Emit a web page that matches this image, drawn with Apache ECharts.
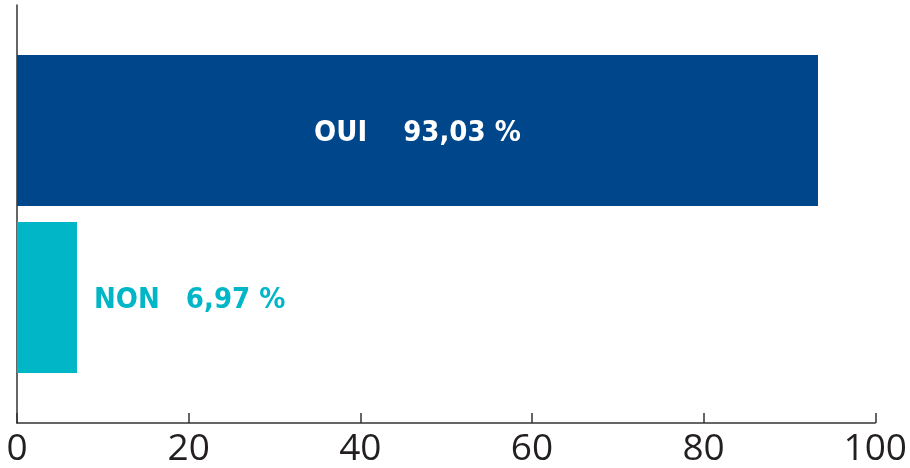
<!DOCTYPE html>
<html>
<head>
<meta charset="utf-8">
<script src="https://cdn.jsdelivr.net/npm/echarts@6/dist/echarts.min.js"></script>
<style>html,body{margin:0;padding:0;background:#fff}#c{width:910px;height:468px}</style>
</head>
<body>
<div id="c"></div>
<script>
const categories = ['OUI', 'NON'];
const values = [93.03, 6.97];
const valueLabels = ['93,03 %', '6,97 %'];
const colors = ['#00468a', '#00b6c7'];
const xTicks = [0, 20, 40, 60, 80, 100];

const chart = echarts.init(document.getElementById('c'));
const labelFont = '"DejaVu Sans Condensed", "Liberation Sans Narrow", sans-serif';
const tickFont = '"Open Sans", "Noto Sans", sans-serif';
function rich(color, gap) {
  return {
    a: { color: color, fontSize: 29, fontWeight: 'bold', fontFamily: labelFont, padding: [5, gap, 0, 0] },
    b: { color: color, fontSize: 29, fontWeight: 'bold', fontFamily: labelFont, padding: [5, 0, 0, 0] }
  };
}
chart.setOption({
  animation: false,
  grid: [
    { left: 17, right: 32, top: 5, bottom: 45 },
    { left: 17, right: 32, top: 47, bottom: 87 }
  ],
  xAxis: [
    {
      gridIndex: 0, type: 'value', min: xTicks[0], max: xTicks[xTicks.length - 1], interval: 20,
      axisLine: { show: true, lineStyle: { color: '#333', width: 1.5 } },
      axisTick: { show: true, inside: true, length: 10, lineStyle: { color: '#333', width: 1.5 } },
      splitLine: { show: false },
      axisLabel: { color: '#231f20', fontSize: 37, fontFamily: tickFont, margin: 8 }
    },
    {
      gridIndex: 1, type: 'value', min: 0, max: 100,
      show: false
    }
  ],
  yAxis: [
    {
      gridIndex: 0, type: 'category', data: [''],
      axisLine: { show: true, lineStyle: { color: '#333', width: 1.5 } },
      axisTick: { show: false }, axisLabel: { show: false }
    },
    {
      gridIndex: 1, type: 'category', data: categories, inverse: true, show: false
    }
  ],
  series: [{
    type: 'bar',
    xAxisIndex: 1, yAxisIndex: 1,
    barWidth: 151,
    data: values.map((v, i) => ({
      value: v,
      itemStyle: { color: colors[i] },
      label: {
        show: true,
        position: i === 0 ? 'inside' : 'right',
        distance: 17,
        formatter: '{a|' + categories[i] + '}{b|' + valueLabels[i] + '}',
        rich: rich(i === 0 ? '#fff' : colors[i], i === 0 ? 36 : 26)
      }
    }))
  }]
});
</script>
</body>
</html>
